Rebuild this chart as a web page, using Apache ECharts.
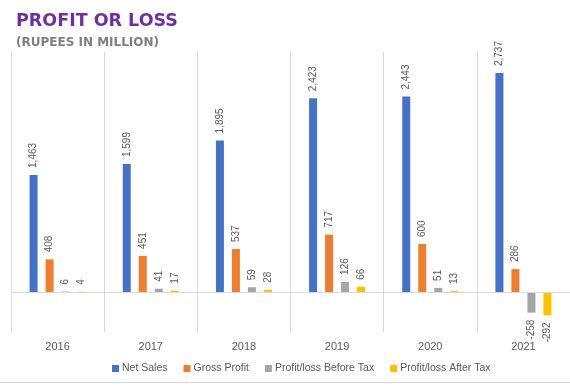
<!DOCTYPE html>
<html>
<head>
<meta charset="utf-8">
<script src="https://cdn.jsdelivr.net/npm/echarts@6/dist/echarts.min.js"></script>
<style>html,body{margin:0;padding:0;background:#fff}#c{width:570px;height:386px}</style>
</head>
<body>
<div id="c"></div>
<script>
const years = ['2016', '2017', '2018', '2019', '2020', '2021'];
const netSales = [1463, 1599, 1895, 2423, 2443, 2737];
const grossProfit = [408, 451, 537, 717, 600, 286];
const profitBeforeTax = [6, 41, 59, 126, 51, -258];
const profitAfterTax = [4, 17, 28, 66, 13, -292];
const seriesNames = ['Net Sales', 'Gross Profit', 'Profit/loss Before Tax', 'Profit/loss After Tax'];
const colors = ['#4472C4', '#ED7D31', '#A5A5A5', '#FFC000'];

const labelColor = '#595959';
function makeData(arr) {
  return arr.map(v => v < 0
    ? { value: v, label: { position: 'bottom', align: 'right' } }
    : v);
}
const allValues = [netSales, grossProfit, profitBeforeTax, profitAfterTax];
const chart = echarts.init(document.getElementById('c'), null, { renderer: 'canvas' });
chart.setOption({
  animation: false,
  title: [
    { text: 'PROFIT OR LOSS', left: 11, top: 7,
      textStyle: { fontFamily: 'DejaVu Sans', fontWeight: 'bold', fontSize: 17.5, color: '#7030A0' } },
    { text: '(RUPEES IN MILLION)', left: 11, top: 32,
      textStyle: { fontFamily: 'DejaVu Sans', fontWeight: 'bold', fontSize: 12, color: '#7F7F7F' } }
  ],
  legend: {
    data: seriesNames,
    left: 107, top: 358,
    icon: 'rect', itemWidth: 7, itemHeight: 7, itemGap: 16,
    textStyle: { fontFamily: 'Liberation Sans', fontSize: 10.5, color: labelColor, padding: [0, 0, 0, -2] }
  },
  grid: { left: 11, right: -2, top: 52, bottom: 54, containLabel: false },
  xAxis: {
    type: 'category', data: years, boundaryGap: true,
    axisLine: { show: false },
    axisTick: { show: false },
    splitLine: { show: true, lineStyle: { color: '#D9D9D9', width: 1 } },
    axisLabel: { margin: 9, fontFamily: 'Liberation Sans', fontSize: 11, color: labelColor }
  },
  yAxis: {
    type: 'value', min: -500, max: 3000, interval: 500, show: false,
    splitLine: { show: false }
  },
  graphic: [
    { type: 'line', shape: { x1: 0, y1: 382.5, x2: 570, y2: 382.5 }, style: { stroke: '#D9D9D9', lineWidth: 1 } }
  ],
  series: allValues.map((arr, i) => ({
    name: seriesNames[i], type: 'bar', data: makeData(arr),
    barWidth: 8, barGap: '100%',
    itemStyle: { color: colors[i] },
    label: {
      show: true, position: 'top', rotate: 90, align: 'left', verticalAlign: 'middle', distance: 7,
      fontFamily: 'Liberation Sans', fontSize: 10, color: labelColor,
      formatter: p => p.value.toLocaleString('en-US')
    },
    markLine: i === 0 ? {
      silent: true, symbol: 'none', label: { show: false },
      lineStyle: { color: '#D9D9D9', type: 'solid', width: 1 },
      data: [{ yAxis: 0 }]
    } : undefined
  }))
});
</script>
</body>
</html>
